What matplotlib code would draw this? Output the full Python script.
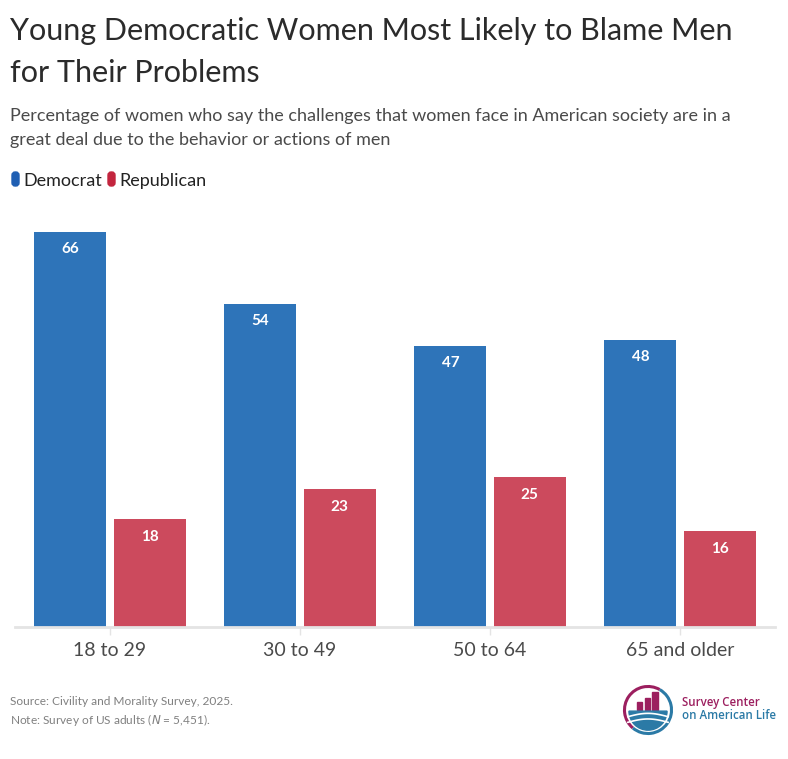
import matplotlib
matplotlib.use("Agg")
import matplotlib.pyplot as plt
import numpy as np
from matplotlib.patches import FancyBboxPatch, Arc, Rectangle, Wedge

categories = ["18 to 29", "30 to 49", "50 to 64", "65 and older"]
democrat = [66, 54, 47, 48]
republican = [18, 23, 25, 16]

BLUE = "#2e74b9"
RED = "#cc4a5d"
FONT = "Lato"

W, H = 788, 759
fig = plt.figure(figsize=(W/100, H/100), dpi=100)
fig.patch.set_facecolor("white")

def fx(px): return px / W
def fy(py): return 1 - py / H

top_px = 627 - 70 * 5.985
ax = fig.add_axes([fx(15), fy(627), fx(775) - fx(15), (627 - top_px) / H])
x = np.arange(len(categories))
bw = 0.379
off = 0.208
b1 = ax.bar(x - off, democrat, bw, color=BLUE, zorder=2)
b2 = ax.bar(x + off, republican, bw, color=RED, zorder=2)
ax.set_xlim(-0.5, len(categories) - 0.5)
ax.set_ylim(0, 70)
ax.set_yticks([])
for s in ["left", "right", "top"]:
    ax.spines[s].set_visible(False)
ax.spines["bottom"].set_color("#e4e4e4")
ax.spines["bottom"].set_linewidth(2)
ax.set_xticks(x)
ax.set_xticklabels(categories, fontfamily=FONT, fontsize=14, color="#4a4a4a")
ax.tick_params(axis="x", length=6, width=1, color="#e4e4e4", pad=5)

for bars, vals in ((b1, democrat), (b2, republican)):
    for r, v in zip(bars, vals):
        ax.annotate(str(v), (r.get_x() + r.get_width()/2, v), xytext=(0, -12.5),
                    textcoords="offset points", ha="center", va="center",
                    color="white", fontsize=11, fontweight="bold", fontfamily=FONT)

fig.text(fx(10), fy(40), "Young Democratic Women Most Likely to Blame Men",
         fontfamily=FONT, fontsize=22, color="#2b2b2b", va="baseline")
fig.text(fx(10), fy(82), "for Their Problems",
         fontfamily=FONT, fontsize=22, color="#2b2b2b", va="baseline")
fig.text(fx(10), fy(121), "Percentage of women who say the challenges that women face in American society are in a",
         fontfamily=FONT, fontsize=13.0, color="#4a4a4a", va="baseline")
fig.text(fx(10), fy(145), "great deal due to the behavior or actions of men",
         fontfamily=FONT, fontsize=13.0, color="#4a4a4a", va="baseline")

def pill(xp, yp, color):
    p = FancyBboxPatch((fx(xp), fy(yp + 14)), fx(7), 14 / H,
                       boxstyle="round,pad=0,rounding_size=0.004",
                       transform=fig.transFigure, color=color, mutation_aspect=W/H)
    fig.patches.append(p)
pill(12, 172, "#1f5fb3")
fig.text(fx(23), fy(186), "Democrat", fontfamily=FONT, fontsize=13, color="#222222", va="baseline")
pill(108, 172, "#c3253e")
fig.text(fx(119), fy(186), "Republican", fontfamily=FONT, fontsize=13, color="#222222", va="baseline")

fig.text(fx(10), fy(705), "Source: Civility and Morality Survey, 2025.",
         fontfamily=FONT, fontsize=8.6, color="#808080", va="baseline")
fig.text(fx(10), fy(724), "Note: Survey of US adults ($\\it{N}$ = 5,451).",
         fontfamily=FONT, fontsize=8.6, color="#808080", va="baseline")

# Logo
lax = fig.add_axes([fx(620), fy(738), fx(56), 56 / H])
lax.set_xlim(-1.25, 1.25)
lax.set_ylim(-1.25, 1.25)
lax.set_aspect("equal")
lax.axis("off")
MAG = "#9c1f5f"
LB = "#2b7aa6"
lax.add_patch(Arc((0, 0), 2.1, 2.1, theta1=60, theta2=230, color=MAG, lw=2.2))
lax.add_patch(Arc((0, 0), 2.1, 2.1, theta1=230, theta2=420, color=LB, lw=2.2))
for bx, bh in ((-0.5, 0.35), (-0.15, 0.55), (0.2, 0.8)):
    lax.add_patch(Rectangle((bx, 0.0), 0.25, bh, color=MAG))
lax.add_patch(Wedge((0, -0.05), 0.85, 180, 360, color=LB))
for yy in (-0.3, -0.55):
    lax.plot(np.linspace(-0.9, 0.9, 30), yy + 0.15*np.sin(np.linspace(0, np.pi, 30)), color="white", lw=1.2)
fig.text(fx(682), fy(706), "Survey Center", fontfamily="Open Sans", fontsize=8.3,
         fontweight="semibold", color=MAG, va="baseline")
fig.text(fx(682), fy(719), "on American Life", fontfamily="Open Sans", fontsize=8.3,
         fontweight="semibold", color=LB, va="baseline")

fig.savefig("out.png", dpi=100)
